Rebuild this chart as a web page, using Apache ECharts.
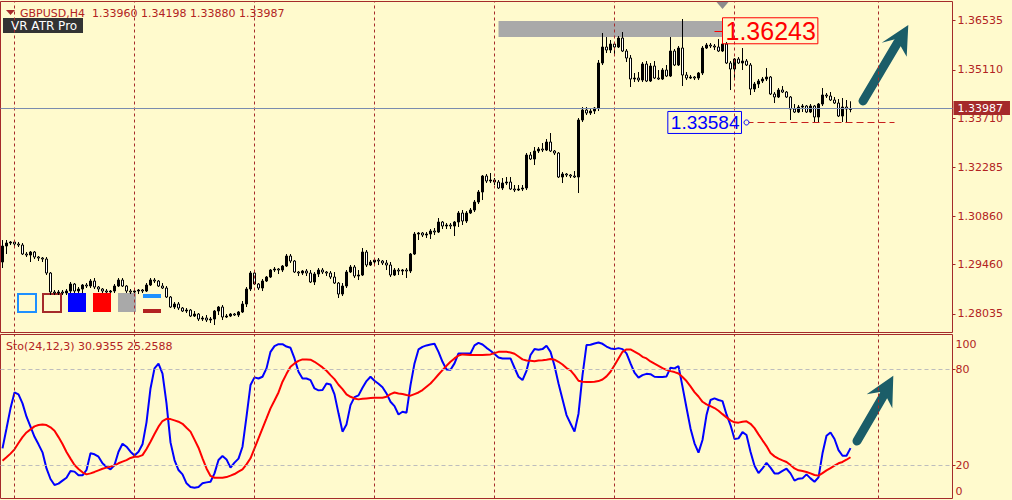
<!DOCTYPE html>
<html>
<head>
<meta charset="utf-8">
<script src="https://cdn.jsdelivr.net/npm/echarts@6/dist/echarts.min.js"></script>
<style>
html,body{margin:0;padding:0;background:#FFFACD;}
#c{width:1012px;height:500px;}
</style>
</head>
<body>
<div id="c"></div>
<script>
// ---------------- data ----------------
const symbolName = 'GBPUSD,H4';
const indicatorName = 'VR ATR Pro';
const stochName = 'Sto(24,12,3)';
const priceTicks = [1.36535, 1.35110, 1.33710, 1.32285, 1.30860, 1.29460, 1.28035];
const stochTicks = [0, 20, 80, 100];
const stochLevels = [80, 20];
const weekStarts = [3, 33, 63, 93, 123, 153, 183, 219];
const atrLevel = 1.36243;
const zoneTop = 1.36526, zoneBottom = 1.36062;
const rangeLow = 1.33584;
const topMarker = 1.36976;

const open = [1.29537,1.30001,1.30088,1.30117,1.30059,1.30030,1.29769,1.29740,1.29827,1.29682,
1.29653,1.29624,1.29218,1.28667,1.28638,1.28667,1.28638,1.28696,1.28899,1.28696,
1.28754,1.28870,1.28841,1.28986,1.28812,1.28754,1.28696,1.28667,1.28696,1.28841,
1.29015,1.28841,1.28696,1.28667,1.28696,1.28725,1.28696,1.28870,1.29015,1.28986,
1.28841,1.28783,1.28522,1.28232,1.28319,1.28203,1.28116,1.28145,1.27971,1.28029,
1.27884,1.27913,1.27855,1.27884,1.28116,1.28232,1.27942,1.27971,1.28029,1.28000,
1.28087,1.28319,1.28754,1.29218,1.28899,1.28783,1.28986,1.29102,1.29305,1.29334,
1.29305,1.29421,1.29711,1.29566,1.29247,1.29218,1.29276,1.29218,1.28957,1.29189,
1.29305,1.29247,1.29218,1.29102,1.28928,1.28609,1.28841,1.29247,1.29392,1.29131,
1.29160,1.29827,1.29450,1.29537,1.29595,1.29566,1.29508,1.29450,1.29160,1.29305,
1.29276,1.29305,1.29276,1.29769,1.30349,1.30378,1.30320,1.30349,1.30436,1.30407,
1.30697,1.30581,1.30610,1.30581,1.30697,1.30958,1.30726,1.30958,1.31045,1.31277,
1.31567,1.32031,1.31886,1.31915,1.31857,1.31683,1.31828,1.31857,1.31654,1.31625,
1.31654,1.31683,1.32640,1.32524,1.32756,1.32814,1.32785,1.33017,1.32756,1.32698,
1.32002,1.32089,1.32060,1.32031,1.32002,1.33655,1.33945,1.33858,1.33916,1.34003,
1.35308,1.35772,1.35685,1.35859,1.35772,1.36033,1.35656,1.35453,1.34844,1.34873,
1.34815,1.35279,1.34786,1.35221,1.34873,1.34844,1.35105,1.34931,1.35656,1.35250,
1.35743,1.34960,1.34873,1.34902,1.34873,1.35018,1.35743,1.35830,1.35801,1.35772,
1.35656,1.35859,1.35308,1.35134,1.35424,1.35308,1.35366,1.35250,1.34554,1.34699,
1.34786,1.34844,1.34902,1.34409,1.34322,1.34525,1.34467,1.34322,1.33974,1.33887,
1.34032,1.34061,1.33887,1.34061,1.33742,1.34119,1.34380,1.34351,1.34235,1.34148,
1.33771,1.34032,1.33960];

const close = [1.30001,1.30088,1.30117,1.30059,1.30030,1.29769,1.29740,1.29827,1.29682,1.29653,
1.29624,1.29218,1.28667,1.28638,1.28667,1.28638,1.28696,1.28899,1.28696,1.28754,
1.28870,1.28841,1.28986,1.28812,1.28754,1.28696,1.28667,1.28696,1.28841,1.29015,
1.28841,1.28696,1.28667,1.28696,1.28725,1.28696,1.28870,1.29015,1.28986,1.28841,
1.28783,1.28522,1.28232,1.28319,1.28203,1.28116,1.28145,1.27971,1.28029,1.27884,
1.27913,1.27855,1.27884,1.28116,1.28232,1.27942,1.27971,1.28029,1.28000,1.28087,
1.28319,1.28754,1.29218,1.28899,1.28783,1.28986,1.29102,1.29305,1.29334,1.29305,
1.29421,1.29711,1.29566,1.29247,1.29218,1.29276,1.29218,1.28957,1.29189,1.29305,
1.29247,1.29218,1.29102,1.28928,1.28609,1.28841,1.29247,1.29392,1.29131,1.29160,
1.29827,1.29450,1.29537,1.29595,1.29566,1.29508,1.29450,1.29160,1.29305,1.29276,
1.29305,1.29276,1.29769,1.30349,1.30378,1.30320,1.30349,1.30436,1.30407,1.30697,
1.30581,1.30610,1.30581,1.30697,1.30958,1.30726,1.30958,1.31045,1.31277,1.31567,
1.32031,1.31886,1.31915,1.31857,1.31683,1.31828,1.31857,1.31654,1.31625,1.31654,
1.31683,1.32640,1.32524,1.32756,1.32814,1.32785,1.33017,1.32756,1.32698,1.32002,
1.32089,1.32060,1.32031,1.32002,1.33655,1.33945,1.33858,1.33916,1.34003,1.35308,
1.35772,1.35685,1.35859,1.35772,1.36033,1.35656,1.35453,1.34844,1.34873,1.34815,
1.35279,1.34786,1.35221,1.34873,1.34844,1.35105,1.34931,1.35656,1.35250,1.35743,
1.34960,1.34873,1.34902,1.34873,1.35018,1.35743,1.35830,1.35801,1.35772,1.35656,
1.35859,1.35308,1.35134,1.35424,1.35308,1.35366,1.35250,1.34554,1.34699,1.34786,
1.34844,1.34902,1.34409,1.34322,1.34525,1.34467,1.34322,1.33974,1.33887,1.34032,
1.34061,1.33887,1.34061,1.33742,1.34119,1.34380,1.34351,1.34235,1.34148,1.33771,
1.34032,1.33974,1.33987];

const low = [1.29363,1.29769,1.30030,1.30001,1.29972,1.29740,1.29682,1.29537,1.29624,1.29566,
1.29537,1.29160,1.28580,1.28580,1.28580,1.28580,1.28580,1.28638,1.28638,1.28638,
1.28638,1.28783,1.28783,1.28754,1.28667,1.28638,1.28638,1.28638,1.28638,1.28812,
1.28812,1.28638,1.28609,1.28638,1.28609,1.28638,1.28667,1.28841,1.28928,1.28812,
1.28754,1.28493,1.28203,1.28174,1.28145,1.28087,1.28058,1.27942,1.27942,1.27826,
1.27826,1.27797,1.27768,1.27710,1.28000,1.27855,1.27913,1.27942,1.27971,1.27942,
1.28058,1.28232,1.28696,1.28870,1.28725,1.28696,1.28957,1.29073,1.29247,1.29189,
1.29247,1.29392,1.29508,1.29218,1.29131,1.29160,1.29131,1.28928,1.28870,1.29102,
1.29189,1.29131,1.29044,1.28899,1.28493,1.28551,1.28783,1.29218,1.29073,1.29015,
1.29131,1.29392,1.29421,1.29479,1.29450,1.29450,1.29305,1.29102,1.29131,1.29160,
1.29160,1.29073,1.29218,1.29740,1.30175,1.30262,1.30233,1.30204,1.30320,1.30378,
1.30494,1.30494,1.30494,1.30291,1.30552,1.30610,1.30668,1.30929,1.30987,1.31219,
1.31335,1.31828,1.31828,1.31770,1.31654,1.31625,1.31770,1.31625,1.31567,1.31596,
1.31596,1.31625,1.32495,1.32350,1.32698,1.32727,1.32756,1.32727,1.32640,1.31973,
1.31828,1.32002,1.31973,1.31973,1.31538,1.33597,1.33800,1.33800,1.33829,1.33916,
1.35250,1.35598,1.35598,1.35569,1.35743,1.35627,1.35337,1.34612,1.34757,1.34757,
1.34757,1.34757,1.34757,1.34844,1.34815,1.34815,1.34902,1.34902,1.35221,1.35221,
1.34641,1.34815,1.34844,1.34815,1.34815,1.34960,1.35714,1.35743,1.35685,1.35627,
1.35627,1.35279,1.34525,1.34873,1.35279,1.35105,1.35221,1.34380,1.34467,1.34583,
1.34728,1.34786,1.34380,1.34148,1.34293,1.34438,1.34293,1.33655,1.33858,1.33858,
1.33887,1.33858,1.33858,1.33584,1.33597,1.34061,1.34293,1.34206,1.34119,1.33742,
1.33597,1.33597,1.33880];

const high = [1.30175,1.30175,1.30146,1.30146,1.30117,1.30088,1.29827,1.29856,1.29856,1.29711,
1.29682,1.29682,1.29247,1.28725,1.28725,1.28725,1.28754,1.28957,1.28928,1.28812,
1.28899,1.28928,1.29044,1.29073,1.28841,1.28783,1.28754,1.28725,1.28899,1.29073,
1.29073,1.28870,1.28754,1.28725,1.28754,1.28754,1.28928,1.29073,1.29073,1.29015,
1.28928,1.28841,1.28551,1.28377,1.28377,1.28232,1.28203,1.28174,1.28116,1.28058,
1.27971,1.28000,1.27942,1.28145,1.28261,1.28290,1.28029,1.28058,1.28058,1.28116,
1.28406,1.28812,1.29276,1.29305,1.28928,1.29044,1.29131,1.29334,1.29392,1.29363,
1.29450,1.29769,1.29769,1.29595,1.29276,1.29305,1.29334,1.29305,1.29247,1.29363,
1.29363,1.29276,1.29276,1.29247,1.28957,1.28928,1.29305,1.29450,1.29450,1.29305,
1.29943,1.29885,1.29595,1.29653,1.29653,1.29595,1.29595,1.29537,1.29363,1.29363,
1.29334,1.29363,1.29798,1.30407,1.30407,1.30407,1.30407,1.30494,1.30523,1.30813,
1.30726,1.30668,1.30668,1.30726,1.31016,1.31045,1.31016,1.31103,1.31335,1.31625,
1.32060,1.32089,1.32118,1.31973,1.31915,1.31973,1.32002,1.32002,1.31770,1.31770,
1.31770,1.32698,1.32727,1.32872,1.32872,1.32988,1.33104,1.33278,1.32785,1.32727,
1.32147,1.32118,1.32089,1.32176,1.33713,1.34032,1.34032,1.34003,1.34032,1.35395,
1.36178,1.36062,1.35975,1.35917,1.36091,1.36207,1.35714,1.35540,1.35018,1.35047,
1.35337,1.35366,1.35308,1.35366,1.35105,1.35163,1.35250,1.36062,1.35714,1.35801,
1.36584,1.35047,1.34960,1.34931,1.35047,1.35801,1.35888,1.35888,1.35859,1.36004,
1.35917,1.35917,1.35366,1.35453,1.35482,1.35743,1.35424,1.35308,1.34757,1.34844,
1.34902,1.35163,1.34931,1.34467,1.34583,1.34641,1.34496,1.34351,1.34119,1.34090,
1.34119,1.34090,1.34119,1.34090,1.34148,1.34583,1.34438,1.34467,1.34322,1.34264,
1.34293,1.34235,1.34198];

const stochK = [30.8,43.2,55.7,65.6,64.4,58.8,50.5,44.3,38.0,33.3,
28.3,18.3,11.7,8.0,8.8,10.7,12.5,16.7,16.3,14.0,
14.0,17.3,27.7,27.1,25.6,21.5,19.2,17.7,20.4,28.7,
33.7,31.8,28.7,26.4,28.7,33.3,47.0,68.1,80.6,83.5,
77.4,58.8,34.5,23.5,17.3,14.6,9.0,6.7,6.3,6.7,
9.0,9.6,10.0,15.2,23.5,26.0,23.9,18.8,21.9,24.4,
31.8,50.5,70.2,75.0,74.3,75.4,80.6,90.9,94.5,95.7,
95.7,94.2,93.4,86.8,78.5,74.3,74.3,73.3,68.1,66.9,
67.1,71.2,70.6,64.4,52.6,41.2,45.7,57.7,62.7,63.8,
68.5,72.7,75.4,72.9,71.0,68.9,65.0,59.8,57.1,51.9,
53.6,53.0,70.2,83.7,92.4,94.0,94.9,95.5,95.9,90.9,
84.7,79.9,79.7,83.7,89.9,89.9,89.9,89.9,94.9,96.5,
95.5,93.4,91.6,89.5,87.4,86.8,86.8,86.8,81.0,75.4,
73.3,79.1,88.9,92.6,92.2,92.6,94.7,90.9,82.2,71.2,
61.3,51.5,46.3,41.2,52.4,76.4,95.1,95.3,96.1,96.7,
95.9,94.2,93.0,92.6,93.2,92.6,89.9,83.7,77.9,74.8,
76.4,77.2,77.0,75.4,75.2,75.2,75.6,81.0,80.6,82.0,
69.2,56.1,43.2,33.9,28.1,36.0,51.5,60.9,61.9,60.9,
60.2,51.9,45.3,36.6,37.0,40.9,39.1,28.7,20.0,15.4,
18.3,21.7,18.8,15.2,15.2,16.7,18.1,15.2,10.7,11.9,
12.1,14.6,12.1,10.0,12.7,27.7,38.7,40.7,36.6,29.7,
26.2,26.2,30.9355];

const stochD = [23.1,25.2,27.5,30.2,34.1,37.8,40.7,42.6,44.5,45.3,
45.7,45.3,43.9,41.8,37.8,33.5,28.5,24.4,20.4,17.9,
15.9,14.6,15.2,16.1,17.1,18.1,18.8,19.4,20.2,21.5,
22.5,23.5,24.8,25.6,25.6,26.6,30.4,34.9,39.7,44.3,
47.8,49.2,49.0,48.2,47.4,46.1,43.6,41.2,36.2,31.2,
24.6,18.3,13.6,12.5,12.5,12.5,12.9,13.8,14.8,16.3,
17.7,20.8,24.6,30.8,37.0,43.2,49.4,55.7,60.6,65.6,
72.3,77.2,81.6,83.7,85.3,86.2,86.2,86.0,84.7,83.0,
81.2,79.1,76.4,73.9,70.4,67.7,64.4,62.9,61.9,61.3,
61.7,61.9,62.1,62.3,62.3,62.3,62.9,64.6,65.6,65.0,
64.6,64.0,63.6,64.6,65.6,67.1,69.2,71.2,73.9,76.8,
79.5,82.2,84.7,86.8,88.6,89.3,89.1,88.9,88.9,88.9,
88.9,89.1,89.3,90.1,90.9,90.9,90.9,90.5,89.7,88.0,
86.2,85.5,85.3,85.1,85.5,85.7,86.0,86.4,86.0,84.7,
83.0,80.8,79.3,76.4,72.9,72.3,72.1,72.1,72.3,72.7,
73.7,75.6,78.5,82.6,86.8,90.9,92.4,92.4,91.1,89.7,
87.8,86.8,84.9,83.5,82.2,80.8,79.7,78.9,78.3,77.4,
75.2,72.7,69.4,65.8,63.1,59.8,58.2,57.1,55.9,54.2,
52.1,50.1,48.2,47.0,46.8,47.4,47.6,46.1,43.4,39.5,
35.8,32.2,27.9,25.8,24.4,23.3,22.3,20.4,18.3,17.1,
16.7,16.1,15.2,14.2,13.8,15.4,17.1,18.5,20.0,21.5,
22.3,23.7,25.2588];

// ---------------- chart ----------------
const SLOTS = 238;
const cats = Array.from({length: SLOTS}, (_, i) => String(i));
const last = close.length - 1;
const candles = open.map((o, i) => [o, close[i], low[i], high[i]]);
const FG = '#A52A2A', TXT = '#B22222', BG = '#FFFACD';
const FONT = 'DejaVu Sans';
const ARROW = '#1B5D68';

const sepLines = weekStarts.map(i => ({xAxis: i}));

const chart = echarts.init(document.getElementById('c'), null, {renderer: 'svg', width: 1012, height: 500});

const header = symbolName + '  ' + [open[last], high[last], low[last], close[last]].map(v => v.toFixed(5)).join(' ');
const stochText = stochName + ' ' + stochK[last].toFixed(4) + ' ' + stochD[last].toFixed(4);

const option = {
  animation: false,
  backgroundColor: BG,
  textStyle: {fontFamily: FONT},
  grid: [
    {left: 0.5, top: 1.5, width: 952, height: 331, show: true, borderColor: FG, borderWidth: 1, backgroundColor: 'transparent'},
    {left: 0.5, top: 334.5, width: 952, height: 164, show: true, borderColor: FG, borderWidth: 1, backgroundColor: 'transparent'}
  ],
  xAxis: [
    {type: 'category', gridIndex: 0, data: cats, show: false, boundaryGap: true},
    {type: 'category', gridIndex: 1, data: cats, show: false, boundaryGap: true}
  ],
  yAxis: [
    {type: 'value', gridIndex: 0, position: 'right', min: 1.27493, max: 1.37092,
      axisLine: {show: false}, splitLine: {show: false},
      axisTick: {show: true, customValues: priceTicks, length: 3, lineStyle: {color: FG}},
      axisLabel: {customValues: priceTicks, formatter: v => v.toFixed(5), color: TXT, fontSize: 11, fontFamily: FONT, margin: 5}},
    {type: 'value', gridIndex: 1, position: 'right', min: -0.44, max: 101.7,
      axisLine: {show: false}, splitLine: {show: false},
      axisTick: {show: true, customValues: stochLevels, length: 3, lineStyle: {color: FG}},
      axisLabel: {customValues: stochTicks, color: TXT, fontSize: 11, fontFamily: FONT, margin: 3,
        formatter: v => v === 100 ? '{t|100}' : (v === 0 ? '{b|0}' : String(v)),
        rich: {
          t: {padding: [14, 0, 0, 0], color: TXT, fontSize: 11, fontFamily: FONT},
          b: {padding: [0, 0, 13, 0], color: TXT, fontSize: 11, fontFamily: FONT}
        }}}
  ],
  series: [
    {
      type: 'candlestick', name: symbolName, xAxisIndex: 0, yAxisIndex: 0,
      data: candles, barWidth: 2,
      itemStyle: {color: '#000000', color0: '#FFFFFF', borderColor: '#000000', borderColor0: '#000000', borderWidth: 1},
      markArea: {
        silent: true,
        itemStyle: {color: '#A9A9A9', opacity: 1},
        data: [[{coord: [124, zoneTop]}, {coord: [180, zoneBottom]}]]
      },
      markLine: {
        silent: true, symbol: ['none', 'none'], animation: false,
        data: [
          ...sepLines.map(d => Object.assign({}, d, {lineStyle: {color: FG, type: [3, 3], width: 1}, label: {show: false}})),
          {yAxis: close[last], lineStyle: {color: '#7A8CAE', type: 'solid', width: 1},
            label: {show: true, position: 'end', distance: 1, formatter: close[last].toFixed(5),
              backgroundColor: FG, color: '#FFFFFF', padding: [2, 7, 1, 4], fontSize: 11, fontFamily: FONT}},
          [{coord: [186, rangeLow], lineStyle: {color: '#C8201E', type: [7, 4], width: 1}, label: {show: false}},
           {coord: [223, rangeLow]}],
          [{coord: [178, atrLevel], lineStyle: {color: '#FF0000', type: 'solid', width: 1},
            label: {show: true, position: 'end', distance: 0, formatter: atrLevel.toFixed(5), color: '#FF0000',
              fontSize: 25, fontFamily: 'Liberation Sans', borderColor: '#FF0000', borderWidth: 1, padding: [1, 2, 0, 3]}},
           {coord: [180, atrLevel]}]
        ]
      },
      markPoint: {
        silent: true, animation: false,
        data: [
          {coord: [186, rangeLow], symbol: 'circle', symbolSize: 5,
            itemStyle: {color: BG, borderColor: '#0000FF', borderWidth: 1},
            label: {show: true, position: 'left', distance: 2, formatter: rangeLow.toFixed(5), color: '#0000FF',
              fontSize: 19, fontFamily: 'Liberation Sans', borderColor: '#0000FF', borderWidth: 1, padding: [2, 2, 1, 3]}},
          {coord: [180, topMarker], symbol: 'triangle', symbolRotate: 180, symbolSize: [12, 7],
            itemStyle: {color: '#8C8C8C'}, label: {show: false}}
        ]
      }
    },
    {
      type: 'line', name: 'Main', xAxisIndex: 1, yAxisIndex: 1, data: stochK,
      symbol: 'none', lineStyle: {color: '#0000FF', width: 2}, itemStyle: {color: '#0000FF'},
      markLine: {
        silent: true, symbol: ['none', 'none'], animation: false, label: {show: false},
        data: [
          ...stochLevels.map(v => ({yAxis: v, lineStyle: {color: '#BDBDBD', type: [4, 3], width: 1}})),
          ...sepLines.map(d => Object.assign({}, d, {lineStyle: {color: FG, type: [3, 3], width: 1}}))
        ]
      }
    },
    {
      type: 'line', name: 'Signal', xAxisIndex: 1, yAxisIndex: 1, data: stochD,
      symbol: 'none', lineStyle: {color: '#FF0000', width: 2}, itemStyle: {color: '#FF0000'}
    }
  ],
  graphic: [
    {type: 'polygon', shape: {points: [[6, 10], [15, 10], [10.5, 15]]}, style: {fill: FG}},
    {type: 'text', x: 20, y: 13, style: {text: header, fill: TXT, font: '11px "DejaVu Sans"', verticalAlign: 'middle'}},
    {type: 'rect', shape: {x: 3, y: 18, width: 80, height: 15}, style: {fill: '#333333'}},
    {type: 'text', x: 11, y: 26, style: {text: indicatorName, fill: '#FFFFFF', font: '12px "DejaVu Sans"', verticalAlign: 'middle'}},
    {type: 'text', x: 6, y: 346, style: {text: stochText, fill: TXT, font: '11px "DejaVu Sans"', verticalAlign: 'middle'}},
    // legend-like boxes
    {type: 'rect', shape: {x: 18, y: 294, width: 18, height: 18}, style: {fill: 'none', stroke: '#1E90FF', lineWidth: 2}},
    {type: 'rect', shape: {x: 43, y: 294, width: 18, height: 18}, style: {fill: 'none', stroke: '#A52A2A', lineWidth: 2}},
    {type: 'rect', shape: {x: 68, y: 293, width: 18, height: 19}, style: {fill: '#0000FF'}},
    {type: 'rect', shape: {x: 93, y: 293, width: 18, height: 19}, style: {fill: '#FF0000'}},
    {type: 'rect', shape: {x: 118, y: 293, width: 18, height: 19}, style: {fill: '#A9A9A9'}},
    {type: 'rect', shape: {x: 143, y: 294, width: 18, height: 4}, style: {fill: '#1E90FF'}},
    {type: 'rect', shape: {x: 143, y: 309, width: 18, height: 4}, style: {fill: '#B22222'}},
    // arrows
    {type: 'polyline', shape: {points: [[863, 101], [898, 42]]}, style: {stroke: ARROW, lineWidth: 9, lineCap: 'round', fill: 'none'}},
    {type: 'polygon', shape: {points: [[908.3, 25], [906.7, 56.7], [901, 46.7], [895, 39.3], [881.7, 42.7]]}, style: {fill: ARROW}},
    {type: 'polyline', shape: {points: [[857, 441], [885, 393]]}, style: {stroke: ARROW, lineWidth: 9, lineCap: 'round', fill: 'none'}},
    {type: 'polygon', shape: {points: [[893.3, 375.7], [892.3, 408.3], [887, 398], [880, 392], [866.7, 394.3]]}, style: {fill: ARROW}}
  ]
};
chart.setOption(option);
</script>
</body>
</html>
